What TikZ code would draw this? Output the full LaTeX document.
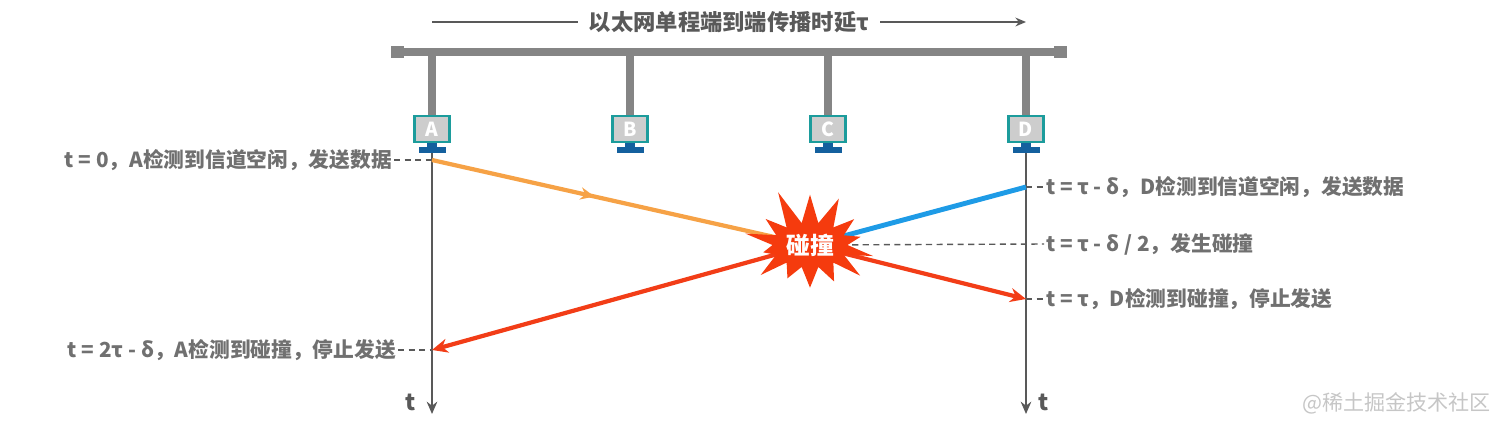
\documentclass[tikz,border=0pt]{standalone}
\usepackage{fontspec}
\setmainfont{Noto Sans CJK SC}
\usepackage{xcolor}
\usetikzlibrary{arrows.meta,shapes.symbols,decorations.markings}

\definecolor{busgray}{HTML}{858585}
\definecolor{axisgray}{HTML}{595959}
\definecolor{textgray}{HTML}{707070}
\definecolor{screenteal}{HTML}{1C9C9C}
\definecolor{screenfill}{HTML}{CDCDCD}
\definecolor{standblue}{HTML}{14609E}
\definecolor{sendorange}{HTML}{F6A246}
\definecolor{sendblue}{HTML}{1E9BE6}
\definecolor{jamred}{HTML}{F23D17}
\definecolor{burstred}{HTML}{F53B0E}

\begin{document}
\begin{tikzpicture}[
  x=0.02cm, y=-0.02cm,
  bus/.style={line width=4.5pt, busgray},
  drop/.style={line width=4pt, busgray},
  screen/.style={draw=screenteal, line width=1.6pt, fill=screenfill,
    minimum width=0.7cm, minimum height=0.52cm, inner sep=0pt,
    text=white, font=\bfseries\fontsize{11}{11}\selectfont},
  neck/.style={fill=standblue, minimum width=0.2cm, minimum height=0.08cm, inner sep=0pt},
  base/.style={fill=standblue, minimum width=0.54cm, minimum height=0.12cm, inner sep=0pt},
  axis/.style={line width=1.4pt, axisgray, -{Stealth[length=7pt,width=6pt]}},
  lbl/.style={text=textgray, inner sep=1pt, font=\bfseries\fontsize{11.8}{13}\selectfont},
  guide/.style={axisgray, line width=0.8pt, dash pattern=on 3.5pt off 2.5pt},
  burst/.style={starburst, fill=burstred, draw=none, text=white,
    starburst points=14, starburst point height=0.75cm, random starburst=11,
    minimum width=3cm, minimum height=2.4cm, inner sep=0pt,
    font=\bfseries\fontsize{13.5}{13.5}\selectfont},
  wmark/.style={text=gray!45, font=\fontsize{12}{12}\selectfont}
]
  \useasboundingbox (0,0) rectangle (1512,427);

  % end to end delay
  \coordinate (sL) at (432,22);
  \coordinate (sR) at (1026,22);
  \draw[line width=1.1pt, axisgray, -{Stealth[length=6pt,width=5pt]}] (sL) -- (sR)
    node[midway, fill=white, inner sep=6pt, text=axisgray,
      font=\bfseries\fontsize{12.7}{14}\selectfont] (delay) {以太网单程端到端传播时延τ};

  % bus and stations
  \draw[bus] (398,52) -- (1060,52);
  \fill[busgray] (391,46) rectangle (404,58);
  \fill[busgray] (1054,46) rectangle (1067,58);
  \foreach \n/\x in {A/432,B/630,C/828,D/1026} {
    \node[screen] (\n) at (\x,129) {\n};
    \draw[drop] (\n.north) -- (\x,52);
    \node[neck] (neck\n) at (\x,145) {};
    \node[base] (base\n) at (\x,150) {};
  }

  % time axes
  \draw[axis] (baseA.south) -- (432,414) coordinate (tA);
  \draw[axis] (baseD.south) -- (1026,414) coordinate (tD);
  \node[lbl, text=axisgray, font=\bfseries\fontsize{13}{13}\selectfont] (tAl) at (411,402) {t};
  \node[lbl, text=axisgray, font=\bfseries\fontsize{13}{13}\selectfont] (tDl) at (1044,402) {t};

  % events
  \coordinate (a0) at (432,160);
  \coordinate (a1) at (432,350);
  \coordinate (d0) at (1026,187);
  \coordinate (d1) at (1026,299);
  \coordinate (hit) at (810,245);

  \node[lbl, anchor=east] (la0) at (394,160) {t = 0，A检测到信道空闲，发送数据};
  \node[lbl, anchor=east] (la1) at (398,350) {t = 2τ - δ，A检测到碰撞，停止发送};
  \node[lbl, anchor=west] (ld0) at (1044,187) {t = τ - δ，D检测到信道空闲，发送数据};
  \node[lbl, anchor=west] (ld2) at (1044,244) {t = τ - δ / 2，发生碰撞};
  \node[lbl, anchor=west] (ld1) at (1044,299) {t = τ，D检测到碰撞，停止发送};

  \draw[guide] (la0.east) -- (a0);
  \draw[guide] (la1.east) -- (a1);
  \draw[guide] (d0) -- (ld0.west);
  \draw[guide] (d1) -- (ld1.west);
  \draw[guide] (hit) -- (ld2.west);

  % signals
  \draw[line width=2.4pt, sendorange, postaction={decorate},
    decoration={markings, mark=at position 0.43 with {\arrow{Stealth[length=8pt,width=7pt]}}}]
    (a0) -- (hit);
  \draw[line width=2.8pt, sendblue] (d0) -- (hit);
  \draw[line width=2.4pt, jamred, -{Stealth[length=9pt,width=8pt]}] (hit) -- (a1);
  \draw[line width=2.4pt, jamred, -{Stealth[length=9pt,width=8pt]}] (hit) -- (d1);

  \node[burst] (boom) at (hit) {碰撞};

  \node[wmark, anchor=east] (wm) at (1497,403) {@稀土掘金技术社区};
\end{tikzpicture}
\end{document}
